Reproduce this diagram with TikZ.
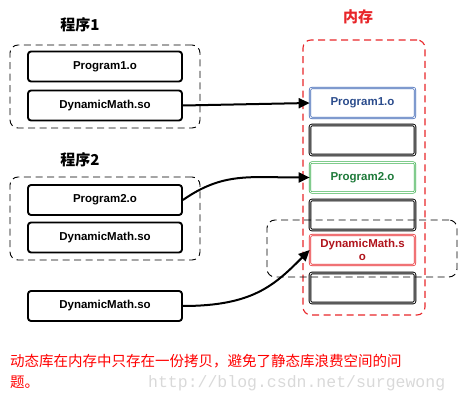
\documentclass[tikz,border=0pt]{standalone}
\usepackage{fontspec}
\setmainfont{Liberation Sans}
\newfontfamily\cjk{Noto Sans CJK SC}
\newfontfamily\wmfont{Liberation Mono}
\usetikzlibrary{arrows.meta}
\definecolor{memred}{HTML}{E8262A}
\definecolor{txtblue}{HTML}{2B4C8C}
\definecolor{lineblue}{HTML}{3A64B4}
\definecolor{txtgreen}{HTML}{1E7A3A}
\definecolor{linegreen}{HTML}{3DB050}
\definecolor{txtred}{HTML}{B0141C}
\begin{document}
\begin{tikzpicture}[x=1pt,y=-1pt,
  progbox/.style={draw, line width=1.9pt, rounded corners=3pt, minimum width=154pt, minimum height=30pt, inner sep=0pt, font=\bfseries\fontsize{11.5}{13}\selectfont},
  memslot/.style={draw, double, double distance=0.8pt, line width=0.9pt, rounded corners=2pt, minimum width=105pt, minimum height=30pt, inner sep=0pt, font=\bfseries\fontsize{11.5}{13}\selectfont},
  grpbox/.style={draw, dash pattern=on 7pt off 4.5pt, line width=0.9pt, rounded corners=8pt, inner sep=0pt},
  title/.style={font=\cjk\bfseries\fontsize{15}{17}\selectfont},
  arr/.style={line width=2pt, -{Triangle[length=11pt,width=10pt]}}
]
\useasboundingbox (0,0) rectangle (459,404);
% titles
\node[title] (t1) at (80,25) {程序1};
\node[title] (t2) at (80,160) {程序2};
\node[title, text=memred] (tm) at (358,17) {内存};
% group boxes
\node[grpbox, minimum width=190pt, minimum height=83pt] (g1) at (105,86.5) {};
\node[grpbox, minimum width=190pt, minimum height=83pt] (g2) at (105,218.5) {};
% memory frame
\node[grpbox, draw=memred, line width=1.1pt, minimum width=122pt, minimum height=275pt] (mem) at (364,177.5) {};
% program boxes
\node[progbox] (p1) at (105,66.5) {Program1.o};
\node[progbox] (d1) at (105,105.5) {DynamicMath.so};
\node[progbox] (p2) at (105,200) {Program2.o};
\node[progbox] (d2) at (105,237.5) {DynamicMath.so};
\node[progbox] (d3) at (105,306) {DynamicMath.so};
% memory slots
\node[memslot, draw=lineblue, line width=0.7pt, text=txtblue] (m1) at (362.5,103) {Program1.o};
\node[memslot] (m2) at (362.5,140) {};
\node[memslot, draw=linegreen, line width=0.7pt, text=txtgreen] (m3) at (362.5,177.5) {Program2.o};
\node[memslot] (m4) at (362.5,215) {};
\node[memslot, draw=memred, line width=0.7pt, text=txtred, align=center] (m5) at (362.5,250) {DynamicMath.s\\o};
\node[memslot] (m6) at (362.5,288) {};
% shared dashed box
\node[grpbox, minimum width=190pt, minimum height=57pt] (g3) at (362,248.5) {};
% arrows
\draw[arr] (d1.east) -- (m1.west);
\draw[arr] (p2.east) .. controls +(40,-28) and +(-60,0) .. (m3.west);
\draw[arr] (d3.east) .. controls +(70,0) and +(-35,35) .. (m5.west);
% caption
\node[anchor=west, text=red, font=\cjk\fontsize{14.5}{17}\selectfont, inner sep=0pt] (c1) at (10,361) {动态库在内存中只存在一份拷贝，避免了静态库浪费空间的问};
\node[anchor=west, text=red, font=\cjk\fontsize{14.5}{17}\selectfont, inner sep=0pt] (c2) at (10,382) {题。};
\node[anchor=west, text=gray!30, font=\wmfont\fontsize{16.5}{18}\selectfont, inner sep=0pt] (wm) at (148,383) {http://blog.csdn.net/surgewong};
\end{tikzpicture}
\end{document}
